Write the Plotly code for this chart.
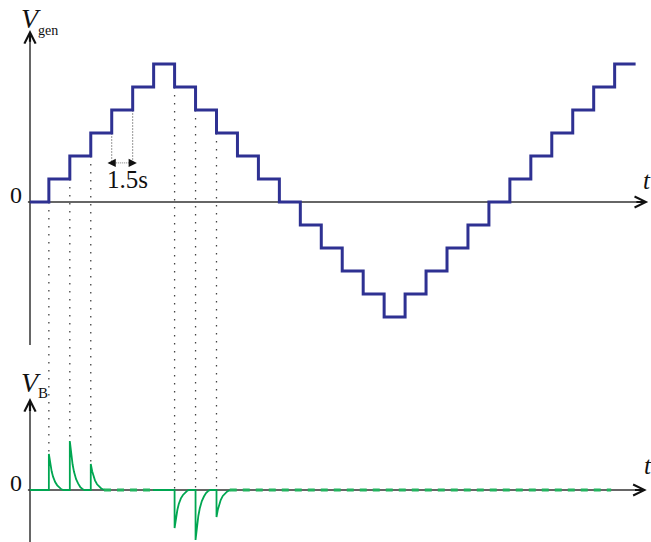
import plotly.graph_objects as go

# ---------------- data ----------------
# step edge times (s) of the generator staircase (steps of 1.5 s)
step_edges = [0, 1.35, 2.85, 4.35, 5.85, 7.35, 8.85, 10.35, 11.85, 13.35, 14.85,
              16.35, 17.85, 19.35, 20.85, 22.35, 23.85, 25.35, 26.85, 28.35,
              29.85, 31.35, 32.85, 34.35, 35.85, 37.35, 38.85, 40.35, 41.85, 43.35]
# generator level on each step (arbitrary units)
gen_levels = [0, 1, 2, 3, 4, 5, 6, 5, 4, 3, 2, 1, 0, -1, -2, -3, -4, -5,
              -4, -3, -2, -1, 0, 1, 2, 3, 4, 5, 6]

# V_B spikes: times, amplitudes, level below the edge on the staircase
spike_times = [1.35, 2.85, 4.35, 10.35, 11.85, 13.35]
spike_amps = [0.72, 0.98, 0.52, -0.76, -1.0, -0.54]
spike_low_levels = [0, 1, 2, 5, 4, 3]
# decay profile (time after edge, fraction of peak)
decay_dt = [0, 0.1, 0.2, 0.3, 0.45, 0.6, 0.75, 0.9, 1.05]
decay_frac = [1, 0.72, 0.52, 0.37, 0.22, 0.13, 0.06, 0.02, 0]

# dashed (idle) parts of V_B
dash_segments = [(5.3, 8.8), (14.3, 41.6)]
solid_segments_start = [0, 8.8]

# ---------------- scales ----------------
W, H = 651, 542
XR = [-2.1475, 44.452]
Y1R = [-14.783, 8.783]
Y2R = [-1.04, 9.8]

def p1(v):
    return (v - Y1R[0]) / (Y1R[1] - Y1R[0])

def p2(v):
    return (v - Y2R[0]) / (Y2R[1] - Y2R[0])

SERIF = "Liberation Serif, Times New Roman, serif"
BLUE = "#2e3192"
GREEN = "#00a651"
GREEN2 = "#22b45e"
AX = "#333333"

fig = go.Figure()

# staircase
fig.add_trace(go.Scatter(
    x=step_edges, y=gen_levels + [gen_levels[-1]],
    mode="lines", line=dict(color=BLUE, width=3, shape="hv"),
    yaxis="y", hoverinfo="skip"))

# V_B solid parts with spikes
def spike_pts(i):
    t, a = spike_times[i], spike_amps[i]
    xs = [t, t] + [t + d for d in decay_dt]
    ys = [0, a] + [a * f for f in decay_frac]
    return xs, ys

xs, ys = [solid_segments_start[0]], [0]
for i in range(3):
    sx, sy = spike_pts(i)
    xs += sx; ys += sy
xs += [dash_segments[0][0]]; ys += [0]
fig.add_trace(go.Scatter(x=xs, y=ys, mode="lines",
                         line=dict(color=GREEN, width=1.8), yaxis="y2", hoverinfo="skip"))

xs, ys = [solid_segments_start[1]], [0]
for i in range(3, 6):
    sx, sy = spike_pts(i)
    xs += sx; ys += sy
xs += [dash_segments[1][0]]; ys += [0]
fig.add_trace(go.Scatter(x=xs, y=ys, mode="lines",
                         line=dict(color=GREEN, width=1.8), yaxis="y2", hoverinfo="skip"))

for a, b in dash_segments:
    fig.add_trace(go.Scatter(x=[a, b], y=[0, 0], mode="lines",
                             line=dict(color=GREEN2, width=3, dash="7px,6px"),
                             yaxis="y2", hoverinfo="skip"))

shapes = []
# axes lines
shapes.append(dict(type="line", xref="x", yref="y", x0=-0.15, x1=44.1, y0=0, y1=0,
                   line=dict(color=AX, width=1.5), layer="below"))
shapes.append(dict(type="line", xref="x", yref="y", x0=0, x1=0, y0=-6.22, y1=7.3,
                   line=dict(color=AX, width=1.5), layer="below"))
shapes.append(dict(type="line", xref="x", yref="y2", x0=-0.15, x1=44.0, y0=0, y1=0,
                   line=dict(color=AX, width=1.5), layer="below"))
shapes.append(dict(type="line", xref="x", yref="y2", x0=0, x1=0, y0=Y2R[0], y1=1.7,
                   line=dict(color=AX, width=1.5), layer="below"))

# dotted guide lines from staircase edges to spikes
for t, a, lo in zip(spike_times, spike_amps, spike_low_levels):
    bottom = a if a > 0 else 0
    shapes.append(dict(type="line", xref="x", yref="paper", x0=t, x1=t,
                       y0=p1(lo), y1=p2(bottom),
                       line=dict(color="#444", width=1.3, dash="1.5px,6.5px"),
                       layer="below"))

# 1.5 s dimension
dim_y = 1.7
for t, lvl in [(5.85, 3), (7.35, 4)]:
    shapes.append(dict(type="line", xref="x", yref="y", x0=t, x1=t, y0=lvl, y1=dim_y,
                       line=dict(color="#999", width=1, dash="2px,1px"), layer="below"))
shapes.append(dict(type="line", xref="x", yref="y", x0=6.0, x1=7.2, y0=dim_y, y1=dim_y,
                   line=dict(color="#777", width=1, dash="1px,1px")))

ann = []
def arrow(x, y, ax, ay, yref, head=5, width=2.2, size=1.0):
    ann.append(dict(x=x, y=y, ax=ax, ay=ay, xref="x", yref=yref, axref="x", ayref=yref,
                    showarrow=True, arrowhead=head, arrowwidth=width, arrowsize=size,
                    arrowcolor="#111", text=""))

arrow(44.25, 0, 43.3, 0, "y")
arrow(0, 7.48, 0, 6.9, "y")
arrow(44.15, 0, 43.2, 0, "y2")
arrow(0, 1.84, 0, 1.55, "y2")
arrow(5.55, dim_y, 6.1, dim_y, "y", head=2, width=1.5, size=1.1)
arrow(7.65, dim_y, 7.1, dim_y, "y", head=2, width=1.5, size=1.1)

def text(x, y, s, size, yref="y", italic=False, xanchor="center"):
    ann.append(dict(x=x, y=y, xref="x", yref=yref, text=("<i>%s</i>" % s) if italic else s,
                    showarrow=False, xanchor=xanchor, yanchor="middle",
                    font=dict(family=SERIF, size=size, color="#111")))

text(0.07, 8.0, "V", 28, italic=True)
text(1.29, 7.45, "gen", 14)
text(-1.0, 0.3, "0", 24)
text(44.2, 0.95, "t", 25, italic=True)
text(7.0, 1.0, "1.5s", 25)
text(0.07, 2.16, "V", 28, yref="y2", italic=True)
text(0.95, 1.94, "B", 15, yref="y2")
text(-1.0, 0.14, "0", 24, yref="y2")
text(44.25, 0.5, "t", 25, yref="y2", italic=True)

fig.update_layout(
    width=W, height=H, autosize=False,
    margin=dict(l=0, r=0, t=0, b=0, pad=0),
    paper_bgcolor="white", plot_bgcolor="white",
    showlegend=False,
    xaxis=dict(range=XR, visible=False, domain=[0, 1]),
    yaxis=dict(range=Y1R, visible=False, domain=[0, 1]),
    yaxis2=dict(range=Y2R, visible=False, domain=[0, 1], overlaying="y"),
    shapes=shapes, annotations=ann,
)

fig.write_html("out.html", config={"displayModeBar": False},
               post_script="document.body.style.margin='0px';document.body.style.overflow='hidden';")
